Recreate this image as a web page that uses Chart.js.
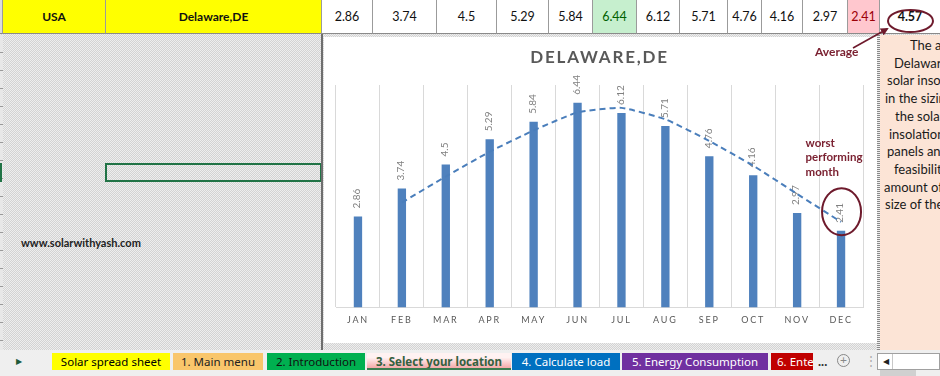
<!DOCTYPE html>
<html>
<head>
<meta charset="utf-8">
<script src="https://cdn.jsdelivr.net/npm/chart.js@4.4.1/dist/chart.umd.min.js"></script>
<style>
  body {
    margin: 0; width: 940px; height: 376px; overflow: hidden; position: relative;
    font-family: Lato, "Liberation Sans", sans-serif;
    background: repeating-conic-gradient(#d3d3d3 0 25%, #eeeeee 0 50%) 0 0 / 2px 2px;
  }
  .abs { position: absolute; }
  .cell {
    position: absolute; top: 0; height: 34px; box-sizing: border-box;
    border-right: 1px solid #9b9b9b; border-bottom: 1px solid #8a8a8a;
    display: flex; align-items: center; justify-content: center;
    font-size: 12.5px; color: #111; background: #fff;
  }
  .tab {
    position: absolute; top: 353px; height: 17px; box-sizing: border-box;
    font-family: "Noto Sans", sans-serif; font-size: 11.5px; line-height: 17px;
    text-align: center; white-space: nowrap; overflow: hidden;
  }
  .note { position: absolute; font-size: 13px; color: #1a1a1a; white-space: nowrap; }
</style>
</head>
<body>
<!-- top row of the sheet -->
<div id="toprow"></div>
<!-- row lines on the left edge -->
<div class="abs" style="left:0;top:35px;width:3px;height:315px;background:repeating-linear-gradient(to bottom,#e8e8e8 0 17px,#9a9a9a 17px 18px)"></div>
<!-- selected cell -->
<div class="abs" style="left:105px;top:163px;width:217px;height:19px;box-sizing:border-box;border:2px solid #217346"></div>
<div class="abs" style="left:0;top:163px;width:2px;height:19px;background:#217346"></div>
<div class="abs" style="left:21px;top:236px;font-size:11px;font-weight:bold;color:#222">www.solarwithyash.com</div>
<!-- column border -->
<div class="abs" style="left:321px;top:34px;width:1.5px;height:316px;background:#6e6e6e"></div>

<!-- chart box -->
<div class="abs" style="left:324px;top:37px;width:554px;height:306px;background:#fff">
  <canvas id="chart" width="554" height="306"></canvas>
</div>

<!-- note box on the right -->
<div class="abs" style="left:877px;top:35px;width:3px;height:315px;background:repeating-linear-gradient(to bottom,#8a8a8a 0 1px,#f0f0f0 1px 2px)"></div>
<div class="abs" style="left:880px;top:35px;width:60px;height:315px;background:#fce4d6"></div>
<div id="notes"></div>

<!-- sheet tabs -->
<div class="abs" style="left:0;top:350px;width:940px;height:26px;background:#efefef"></div>
<div class="abs" style="left:16px;top:356px;font-size:8px;color:#1e5a3a">&#9654;</div>
<div id="tabs"></div>
<div class="abs" style="left:818px;top:355px;font-size:13px;font-weight:bold;color:#333;line-height:12px">...</div>
<div class="abs" style="left:837px;top:354px;width:13px;height:13px;border:1.3px solid #888;border-radius:50%;box-sizing:border-box;text-align:center;font-size:12px;line-height:10px;color:#888">+</div>
<div class="abs" style="left:865px;top:354px;font-size:12px;color:#aaa;line-height:14px">&#8942;</div>
<div class="abs" style="left:877px;top:353px;width:63px;height:17px;background:#fff;border:1px solid #a0a0a0;box-sizing:border-box"></div>
<div class="abs" style="left:880px;top:354px;width:12px;height:15px;border-right:1px solid #c8c8c8;font-size:8px;line-height:15px;text-align:center;color:#222">&#9664;</div>
<div class="abs" style="left:880px;top:370px;width:36px;height:6px;background:#d0d0d0"></div>

<!-- average annotation -->
<div class="abs" style="left:815px;top:44px;font-size:12px;font-weight:bold;color:#7b2232">Average</div>
<svg class="abs" style="left:0;top:0" width="940" height="376">
  <defs>
    <marker id="head" markerWidth="8" markerHeight="8" refX="6" refY="4" orient="auto" markerUnits="userSpaceOnUse">
      <path d="M0,0 L8,4 L0,8 z" fill="#6e1a2c"/>
    </marker>
  </defs>
  <line x1="853" y1="48" x2="887" y2="29" stroke="#6e1a2c" stroke-width="1.6" marker-end="url(#head)"/>
  <ellipse cx="910.5" cy="21" rx="22.5" ry="11" fill="none" stroke="#6e1a2c" stroke-width="2"/>
</svg>

<script>
// monthly solar insolation, Delaware (kWh/m²/day)
const months = ['JAN', 'FEB', 'MAR', 'APR', 'MAY', 'JUN', 'JUL', 'AUG', 'SEP', 'OCT', 'NOV', 'DEC'];
const insolation = [2.86, 3.74, 4.5, 5.29, 5.84, 6.44, 6.12, 5.71, 4.76, 4.16, 2.97, 2.41];
// dashed trend line
const trend = [null, 3.30, 4.12, 4.90, 5.57, 6.14, 6.28, 5.92, 5.24, 4.46, 3.57, 2.69];
const average = 4.57;
const country = 'USA';
const place = 'Delaware,DE';
const noteLines = ['The a', 'Delawar', 'solar inso', 'in the sizin', 'the solar',
  'insolation', 'panels an', 'feasibilit', 'amount of', 'size of the'];
const sheetTabs = ['Solar spread sheet', '1. Main menu', '2. Introduction', '3. Select your location',
  '4. Calculate load', '5. Energy Consumption', '6. Ente'];

// top row cells
const edges = [0, 3, 106, 322, 373, 437, 497, 549, 593, 637, 680, 728, 762, 803, 848, 880, 940];
const best = insolation.indexOf(Math.max(...insolation));
const worst = insolation.indexOf(Math.min(...insolation));
const row = document.getElementById('toprow');
const cellTexts = ['', country, place, ...insolation.map(String), average.toFixed(2)];
cellTexts.forEach((t, i) => {
    const d = document.createElement('div');
    d.className = 'cell';
    d.style.left = edges[i] + 'px';
    d.style.width = (edges[i + 1] - edges[i]) + 'px';
    d.textContent = t;
    if (i === 0) d.style.background = '#dcdcdc';
    if (i === 1 || i === 2) { d.style.background = '#ffff00'; d.style.fontWeight = 'bold'; d.style.fontSize = '12px'; }
    if (i - 3 === best) { d.style.background = '#c6efce'; d.style.color = '#006100'; }
    if (i - 3 === worst) { d.style.background = '#ffc7ce'; d.style.color = '#9c0006'; }
    if (i === cellTexts.length - 1) { d.style.fontWeight = 'bold'; d.style.borderRight = 'none'; }
    row.appendChild(d);
});

// note text
const noteX = [910, 894, 887, 885, 895, 889, 887, 894, 884, 885];
noteLines.forEach((t, i) => {
    const s = document.createElement('div');
    s.className = 'note';
    s.style.left = noteX[i] + 'px';
    s.style.top = (37 + i * 17.7) + 'px';
    s.textContent = t;
    document.getElementById('notes').appendChild(s);
});

// sheet tabs
const tabStyle = [
    [52, 118, '#ffff00', '#000', ''],
    [173, 90, '#f9c66b', '#222', ''],
    [267, 98, '#00b050', '#111', ''],
    [367, 144, 'linear-gradient(#fff2f2 30%, #f4a9a9)', '#35603f', 'bold'],
    [512, 108, '#0070c0', '#fff', ''],
    [622, 146, '#7030a0', '#fff', ''],
    [771, 42, '#c00000', '#fff', '']
];
sheetTabs.forEach((t, i) => {
    const [x, w, bg, fg, fw] = tabStyle[i];
    const d = document.createElement('div');
    d.className = 'tab';
    d.style.left = x + 'px';
    d.style.width = w + 'px';
    d.style.background = bg;
    d.style.color = fg;
    if (fw) { d.style.fontWeight = fw; d.style.borderBottom = '2px solid #3a7d50'; }
    if (i === sheetTabs.length - 1) { d.style.textAlign = 'left'; d.style.paddingLeft = '6px'; }
    d.textContent = t;
    document.getElementById('tabs').appendChild(d);
});

// rotated value labels above bars
const barLabels = {
    id: 'barLabels',
    afterDatasetDraw(chart, args) {
        if (args.index !== 0) return;
        const ctx = chart.ctx;
        ctx.save();
        ctx.letterSpacing = '0px';
        ctx.font = '10px Lato';
        ctx.fillStyle = '#808080';
        ctx.textAlign = 'left';
        ctx.textBaseline = 'middle';
        args.meta.data.forEach((bar, i) => {
            ctx.save();
            ctx.translate(bar.x - 1, bar.y - 8);
            ctx.rotate(-Math.PI / 2);
            ctx.fillText(String(insolation[i]), 0, 0);
            ctx.restore();
        });
        ctx.restore();
    }
};

// spaced letters for title and month labels
const spacing = {
    id: 'spacing',
    beforeDraw(chart) { chart.ctx.letterSpacing = '1.8px'; },
    afterDraw(chart) { chart.ctx.letterSpacing = '0px'; }
};

// circle round the worst month and its note
const worstNote = {
    id: 'worstNote',
    afterDraw(chart) {
        const ctx = chart.ctx;
        const bar = chart.getDatasetMeta(0).data[worst];
        const top = chart.chartArea.top;
        ctx.save();
        ctx.letterSpacing = '0px';
        ctx.strokeStyle = '#6e1a2c';
        ctx.lineWidth = 2;
        ctx.beginPath();
        ctx.ellipse(bar.x + 0.5, bar.y - 19, 19.5, 23.5, 0, 0, Math.PI * 2);
        ctx.stroke();
        ctx.fillStyle = '#7b2232';
        ctx.font = 'bold 11.5px Lato';
        ctx.textAlign = 'left';
        ctx.textBaseline = 'middle';
        ['worst', 'performing', 'month'].forEach((t, k) => {
            ctx.fillText(t, bar.x - 35.5, top + 58 + k * 14.5);
        });
        ctx.restore();
    }
};

new Chart(document.getElementById('chart'), {
    type: 'bar',
    data: {
        labels: months,
        datasets: [{
            data: insolation,
            backgroundColor: '#4f81bd',
            barPercentage: 0.19,
            categoryPercentage: 1,
            order: 1
        }, {
            type: 'line',
            data: trend,
            borderColor: '#4a7ebb',
            borderWidth: 2,
            borderDash: [6, 4],
            pointRadius: 0,
            tension: 0.15,
            fill: false,
            order: 0
        }]
    },
    options: {
        responsive: false,
        animation: false,
        devicePixelRatio: 1,
        layout: { padding: { left: 12, right: 15, top: 0, bottom: 9.6 } },
        plugins: {
            legend: { display: false },
            tooltip: { enabled: false },
            title: {
                display: true,
                text: place.toUpperCase(),
                color: '#595959',
                font: { family: 'Lato', size: 17, weight: 'bold' },
                padding: { top: 10, bottom: 17.6 }
            }
        },
        scales: {
            x: {
                grid: { color: '#d9d9d9', drawTicks: false, offset: true },
                border: { color: '#d9d9d9' },
                ticks: { color: '#595959', font: { family: 'Lato', size: 9 }, padding: 7.6 }
            },
            y: { display: false, min: 0, max: 7 }
        }
    },
    plugins: [spacing, barLabels, worstNote]
});
</script>
</body>
</html>
